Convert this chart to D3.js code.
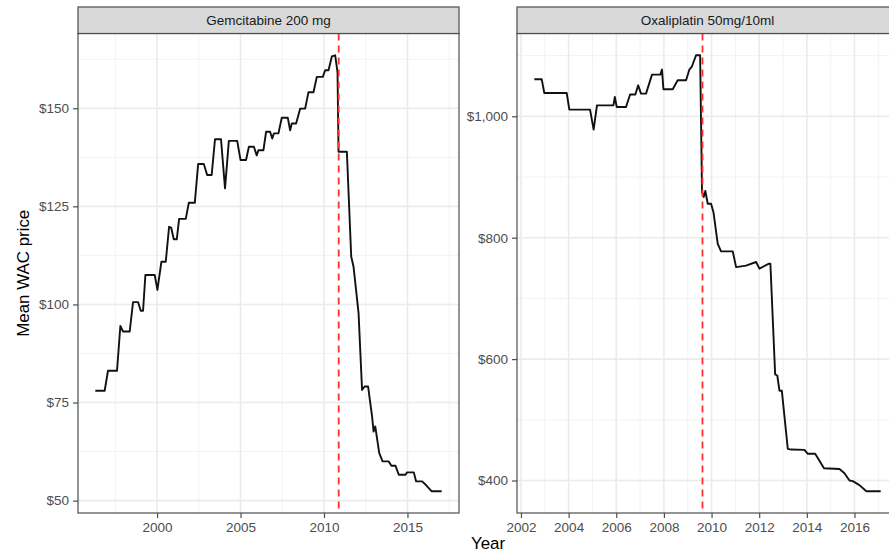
<!DOCTYPE html>
<html>
<head>
<meta charset="utf-8">
<script src="https://cdn.jsdelivr.net/npm/d3@7"></script>
<style>
  body { margin: 0; background: #fff; }
  svg { display: block; font-family: "Liberation Sans", Arial, sans-serif; }
</style>
</head>
<body>
<svg id="chart" width="889" height="554"></svg>
<script>
// values (year as decimal, mean WAC price in $)
const gemYears = [1996.3, 1996.86, 1997.06, 1997.6, 1997.8, 1997.96, 1998.36, 1998.56, 1998.86, 1999.02,
  1999.16, 1999.3, 1999.86, 2000.02, 2000.26, 2000.52, 2000.72, 2000.85, 2001.0, 2001.18,
  2001.32, 2001.72, 2001.9, 2002.26, 2002.46, 2002.8, 2003.0, 2003.27, 2003.47, 2003.83,
  2004.07, 2004.3, 2004.8, 2005.0, 2005.33, 2005.5, 2005.8, 2005.97, 2006.07, 2006.37,
  2006.53, 2006.77, 2006.9, 2007.0, 2007.27, 2007.47, 2007.83, 2007.97, 2008.07, 2008.33,
  2008.57, 2008.87, 2009.07, 2009.37, 2009.57, 2009.93, 2010.07, 2010.27, 2010.47, 2010.67,
  2010.81, 2010.87, 2011.37, 2011.63, 2011.77, 2011.92, 2012.07, 2012.28, 2012.43, 2012.64,
  2012.88, 2012.97, 2013.07, 2013.31, 2013.51, 2013.87, 2014.04, 2014.28, 2014.48, 2014.88,
  2014.98, 2015.38, 2015.52, 2015.88, 2016.08, 2016.44, 2017.05];
const gemPrices = [78.0, 78.0, 83.1, 83.1, 94.5, 93.1, 93.1, 100.6, 100.6, 98.4,
  98.4, 107.5, 107.5, 103.7, 110.9, 110.9, 119.8, 119.5, 116.6, 116.6,
  121.8, 121.8, 125.9, 125.9, 135.8, 135.8, 133.0, 133.0, 142.1, 142.1,
  129.6, 141.7, 141.7, 136.8, 136.8, 140.2, 140.2, 138.0, 139.3, 139.3,
  144.0, 144.0, 142.3, 143.6, 143.6, 147.6, 147.6, 144.4, 146.1, 146.1,
  149.9, 149.9, 154.1, 154.1, 158.0, 158.0, 159.7, 159.7, 163.2, 163.5,
  159.2, 138.9, 138.9, 112.2, 109.6, 103.7, 97.8, 78.2, 79.1, 79.1,
  71.5, 67.6, 68.9, 62.1, 60.0, 60.0, 58.9, 58.9, 56.6, 56.6,
  57.2, 57.2, 54.9, 54.9, 54.1, 52.4, 52.4];

const oxaYears = [2002.56, 2002.87, 2002.98, 2003.92, 2004.03, 2004.9, 2005.05, 2005.19, 2005.88, 2005.94,
  2006.02, 2006.41, 2006.58, 2006.8, 2006.92, 2007.04, 2007.25, 2007.5, 2007.85, 2007.92,
  2007.98, 2008.37, 2008.58, 2008.93, 2009.07, 2009.18, 2009.35, 2009.52, 2009.6, 2009.67,
  2009.74, 2009.84, 2009.98, 2010.08, 2010.26, 2010.4, 2010.89, 2011.03, 2011.45, 2011.87,
  2012.01, 2012.39, 2012.47, 2012.67, 2012.76, 2012.85, 2012.95, 2013.2, 2013.34, 2013.9,
  2014.04, 2014.35, 2014.72, 2015.37, 2015.58, 2015.79, 2015.93, 2016.12, 2016.22, 2016.5,
  2017.1];
const oxaPrices = [1061, 1061, 1038.4, 1038.4, 1011, 1011, 978, 1018, 1018, 1031.8,
  1015.3, 1015.3, 1036, 1036, 1051, 1037.4, 1037.4, 1068.7, 1068.7, 1077,
  1044.5, 1044.5, 1059.3, 1059.3, 1077, 1082.4, 1100.5, 1100.5, 875.2, 867,
  877, 856, 856, 842, 790, 777.5, 777.5, 751.6, 754, 760,
  749, 757, 757, 574.7, 573, 548, 548, 452.2, 451, 450.5,
  444, 444, 420.3, 419, 412, 400, 399, 394.5, 392, 382.4,
  382.4];

const panelTitles = ["Gemcitabine 200 mg", "Oxaliplatin 50mg/10ml"];
const cutoffYears = [2010.88, 2009.62];
const gemXTicks = [2000, 2005, 2010, 2015];
const gemYTicks = [50, 75, 100, 125, 150];
const oxaXTicks = [2002, 2004, 2006, 2008, 2010, 2012, 2014, 2016];
const oxaYTicks = [400, 600, 800, 1000];

const panels = [
  { title: panelTitles[0], years: gemYears, prices: gemPrices, cutoff: cutoffYears[0],
    xTicks: gemXTicks, yTicks: gemYTicks, left: 78, right: 459 },
  { title: panelTitles[1], years: oxaYears, prices: oxaPrices, cutoff: cutoffYears[1],
    xTicks: oxaXTicks, yTicks: oxaYTicks, left: 517, right: 898 }
];

const stripTop = 7, panelTop = 33.5, panelBottom = 513;
const svg = d3.select("#chart");

// ggplot-like 5% expansion of the data range
const expand = (ext) => {
  const pad = (ext[1] - ext[0]) * 0.05;
  return [ext[0] - pad, ext[1] + pad];
};
// minor breaks halfway between majors
const minors = (ticks, domain) => {
  const step = ticks[1] - ticks[0];
  const out = [];
  for (let v = ticks[0] - step / 2; v <= domain[1]; v += step) {
    if (v >= domain[0]) out.push(v);
  }
  return out;
};
const dollar = d3.format(",");

panels.forEach((p) => {
  const x = d3.scaleLinear().domain(expand(d3.extent(p.years))).range([p.left, p.right]);
  const y = d3.scaleLinear().domain(expand(d3.extent(p.prices))).range([panelBottom, panelTop]);
  const data = p.years.map((yr, i) => ({ year: yr, price: p.prices[i] }));

  const g = svg.append("g");

  // minor grid
  g.selectAll(".xminor").data(minors(p.xTicks, x.domain())).enter().append("line")
    .attr("x1", (d) => x(d)).attr("x2", (d) => x(d))
    .attr("y1", panelTop).attr("y2", panelBottom)
    .attr("stroke", "#f2f2f2").attr("stroke-width", 1);
  g.selectAll(".yminor").data(minors(p.yTicks, y.domain())).enter().append("line")
    .attr("x1", p.left).attr("x2", p.right)
    .attr("y1", (d) => y(d)).attr("y2", (d) => y(d))
    .attr("stroke", "#f2f2f2").attr("stroke-width", 1);

  // major grid
  g.selectAll(".xmajor").data(p.xTicks).enter().append("line")
    .attr("x1", (d) => x(d)).attr("x2", (d) => x(d))
    .attr("y1", panelTop).attr("y2", panelBottom)
    .attr("stroke", "#ebebeb").attr("stroke-width", 1.6);
  g.selectAll(".ymajor").data(p.yTicks).enter().append("line")
    .attr("x1", p.left).attr("x2", p.right)
    .attr("y1", (d) => y(d)).attr("y2", (d) => y(d))
    .attr("stroke", "#ebebeb").attr("stroke-width", 1.6);

  // price line
  g.append("path")
    .datum(data)
    .attr("fill", "none")
    .attr("stroke", "#111")
    .attr("stroke-width", 1.9)
    .attr("stroke-linejoin", "round")
    .attr("d", d3.line().x((d) => x(d.year)).y((d) => y(d.price)));

  // generic entry marker
  g.append("line")
    .attr("x1", x(p.cutoff)).attr("x2", x(p.cutoff))
    .attr("y1", panelTop).attr("y2", panelBottom)
    .attr("stroke", "#ff3030").attr("stroke-width", 1.8)
    .attr("stroke-dasharray", "7,5");

  // panel border
  g.append("rect")
    .attr("x", p.left).attr("y", panelTop)
    .attr("width", p.right - p.left).attr("height", panelBottom - panelTop)
    .attr("fill", "none").attr("stroke", "#4d4d4d").attr("stroke-width", 1.2);

  // strip
  g.append("rect")
    .attr("x", p.left).attr("y", stripTop)
    .attr("width", p.right - p.left).attr("height", panelTop - stripTop)
    .attr("fill", "#d9d9d9").attr("stroke", "#4d4d4d").attr("stroke-width", 1.2);
  g.append("text")
    .attr("x", (p.left + p.right) / 2).attr("y", stripTop + 18)
    .attr("text-anchor", "middle")
    .attr("font-size", "13.5px").attr("fill", "#1a1a1a")
    .text(p.title);

  // axes
  const xAxis = g.append("g")
    .attr("transform", `translate(0,${panelBottom})`)
    .call(d3.axisBottom(x).tickValues(p.xTicks).tickFormat(d3.format("d")).tickSize(5).tickPadding(4));
  const yAxis = g.append("g")
    .attr("transform", `translate(${p.left},0)`)
    .call(d3.axisLeft(y).tickValues(p.yTicks).tickFormat((d) => "$" + dollar(d)).tickSize(5).tickPadding(4));
  [xAxis, yAxis].forEach((a) => {
    a.select(".domain").remove();
    a.selectAll(".tick line").attr("stroke", "#4d4d4d").attr("stroke-width", 1.2);
    a.selectAll(".tick text").attr("fill", "#4d4d4d").attr("font-size", "13.5px")
      .attr("font-family", "Liberation Sans, Arial, sans-serif");
  });
});

// axis titles
svg.append("text")
  .attr("transform", `translate(29,${(panelTop + panelBottom) / 2}) rotate(-90)`)
  .attr("text-anchor", "middle")
  .attr("font-size", "16.9px").attr("fill", "#000")
  .text("Mean WAC price");
svg.append("text")
  .attr("x", (78 + 898) / 2).attr("y", 549)
  .attr("text-anchor", "middle")
  .attr("font-size", "16.9px").attr("fill", "#000")
  .text("Year");
</script>
</body>
</html>
